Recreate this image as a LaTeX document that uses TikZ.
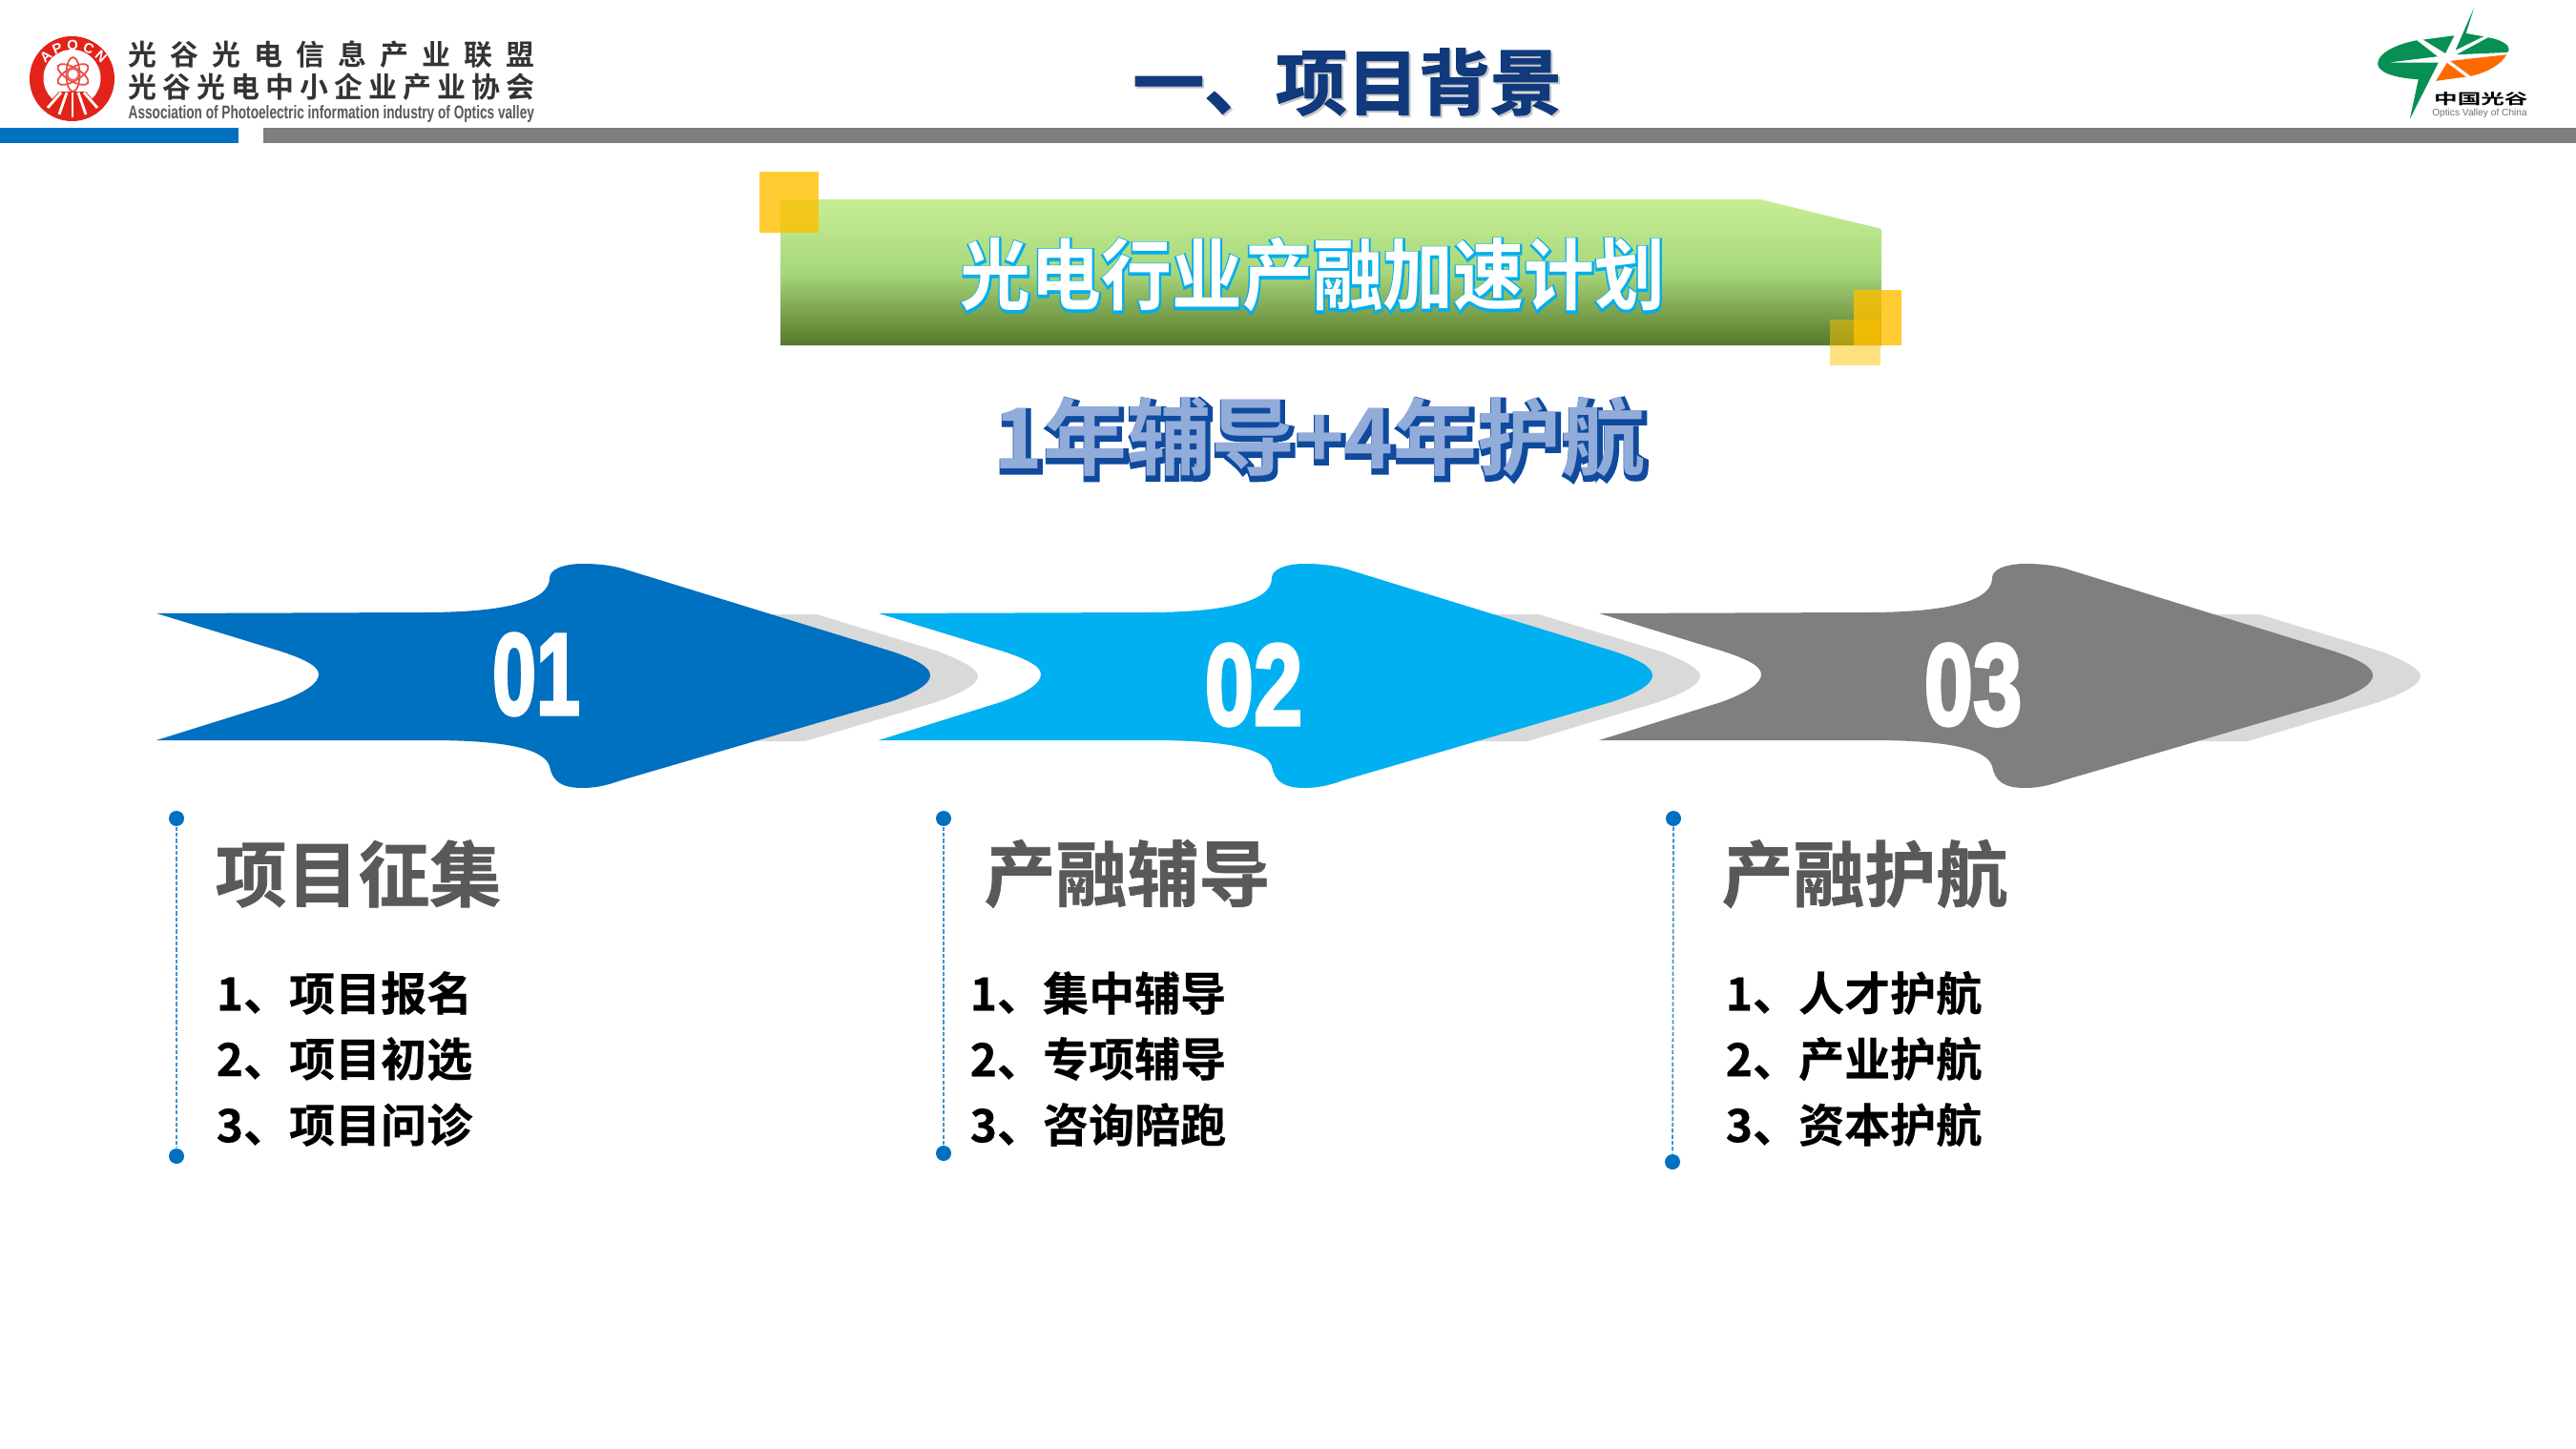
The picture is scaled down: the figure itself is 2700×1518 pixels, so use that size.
\documentclass[tikz,border=0pt]{standalone}
\usepackage{fontspec}
\setmainfont{Liberation Sans}
\newfontfamily\cjk{Noto Sans CJK SC}
\newfontfamily\cjkstroke[FakeBold=1.6]{Noto Sans CJK SC Bold}
\newfontfamily\cjkheavy[FakeBold=5]{Noto Sans CJK SC Bold}
\newfontfamily\cjkouter[FakeBold=7]{Noto Sans CJK SC Bold}
\newfontfamily\cjkbold{Noto Sans CJK SC Bold}
\newfontfamily\cjkhead[FakeBold=0.9]{Noto Sans CJK SC Bold}
\newfontfamily\cjkitem[FakeBold=0.4]{Noto Sans CJK SC Bold}
\newfontfamily\numfont[FakeBold=3]{Liberation Sans Bold}
\definecolor{cblue}{HTML}{0070C0}
\definecolor{csky}{HTML}{00B0F0}
\definecolor{cgray}{HTML}{7F7F7F}
\definecolor{cshadow}{HTML}{D9D9D9}
\definecolor{ctext}{HTML}{595959}
\definecolor{cgold}{HTML}{FFC000}
\definecolor{cgreen}{HTML}{078F54}
\definecolor{corange}{HTML}{FF6A00}
\definecolor{cred}{HTML}{E2231A}
\definecolor{cnavy}{HTML}{0F4A9E}
\definecolor{cpat}{HTML}{92ACDA}
\definecolor{ccyan}{HTML}{00AEEF}
\definecolor{ctitle}{HTML}{113A7C}
\definecolor{bantop}{HTML}{C6EE95}
\definecolor{banmid}{HTML}{A8D77B}
\definecolor{banbot}{HTML}{567729}
\tikzset{
  x=0.01cm,y=-0.01cm,
  headtext/.style={inner sep=0,font=\fontsize{21.3}{24}\cjkhead,text=ctext,anchor=west},
  itemtext/.style={inner sep=0,font=\fontsize{13.66}{16}\cjkitem,text=black,anchor=west},
  dotmark/.style={circle,fill=cblue,inner sep=0,minimum size=0.16cm},
  dashline/.style={cblue!75,line width=0.5pt,dash pattern=on 1.2pt off 0.6pt},
  plain/.style={inner sep=0},
  numtext/.style={inner sep=0,text=white,font=\fontsize{34.5}{36}\numfont,transform shape},
  logoletter/.style={inner sep=0,text=white,font=\fontsize{4.2}{5}\selectfont\bfseries},
}
\newcommand{\arrowbody}[2]{%
  \begin{scope}[xshift=#1*0.01cm]
    \fill[cshadow] (809,644) -- (856,644) -- (984,683) .. controls (1012,694) and (1025,702) .. (1025,709)
      .. controls (1025,717) and (1008,727) .. (978,737) -- (844,777) -- (794,777) -- cycle;
    \fill[#2] (164,643) -- (295,683) .. controls (322,692) and (334,699) .. (334,707)
      .. controls (334,716) and (320,726) .. (292,736) -- (164,776) -- (450,776)
      .. controls (530,776) and (570,785) .. (576,803)
      .. controls (579,819) and (588,826) .. (611,826)
      .. controls (626,826) and (640,822) .. (651,818) -- (935,735)
      .. controls (960,726) and (975,717) .. (975,708)
      .. controls (975,699) and (960,691) .. (932,682) -- (659,598)
      .. controls (645,593) and (628,591) .. (611,591)
      .. controls (590,591) and (576,597) .. (576,606)
      .. controls (576,630) and (530,642) .. (444,642) -- cycle;
  \end{scope}}
\begin{document}
\begin{tikzpicture}
\useasboundingbox (0,0) rectangle (2700,1518);
\fill[white] (0,0) rectangle (2700,1518);
% header bars
\fill[cblue] (0,134) rectangle (250,150);
\fill[cgray] (276,134) rectangle (2700,150);
% left logo
\fill[cred] (75.5,82.5) ellipse[x radius=44.5,y radius=44.5];
\fill[white] (75.5,82) circle[radius=30];
\fill[cred] (62,96) -- (90,96) -- (104,112) -- (90,122) -- (62,122) -- (47,112) -- cycle;
\foreach \sx/\ex/\ey in {64/50/113,70/62/120,76/76/123,82/90/120,88/102/113}{
  \draw[white,line width=0.8pt] (\sx,97) -- (\ex,\ey);
}
\foreach \r in {0,60,120}{
  \draw[cred!80,line width=0.5pt,rotate around={\r:(76.5,78)}] (76.5,78) ellipse[x radius=7,y radius=18];
}
\draw[cred!70,line width=0.6pt] (76.5,78) circle[radius=6];
\node[logoletter,rotate=42] (la1) at (48,59) {A};
\node[logoletter,rotate=22] (la2) at (60,51) {P};
\node[logoletter] (la3) at (76,47.5) {O};
\node[logoletter,rotate=-22] (la4) at (93,51) {C};
\node[logoletter,rotate=-42] (la5) at (106,59) {N};
\node[plain,anchor=west,text=black!80,font=\fontsize{8.5}{10}\cjkbold] (la) at (134,57.5)
  {\makebox[4.25cm][s]{光\hfil 谷\hfil 光\hfil 电\hfil 信\hfil 息\hfil 产\hfil 业\hfil 联\hfil 盟}};
\node[plain,anchor=west,text=black!80,font=\fontsize{8.5}{10}\cjkbold] (lb) at (134,91.5)
  {\makebox[4.25cm][s]{光\hfil 谷\hfil 光\hfil 电\hfil 中\hfil 小\hfil 企\hfil 业\hfil 产\hfil 业\hfil 协\hfil 会}};
\node[plain,anchor=base west,text=black!65] (lc) at (134,124)
  {\resizebox{4.25cm}{0.14cm}{\fontsize{11}{12}\selectfont\bfseries Association of Photoelectric information industry of Optics valley}};
% title
\node[plain,text=black!22,font=\fontsize{21.3}{24}\cjkstroke] (title0) at (1414,88) {一、项目背景};
\node[plain,text=ctitle,font=\fontsize{21.3}{24}\cjkstroke] (title) at (1412,86) {一、项目背景};
% right logo
\begin{scope}[shift={(2400*0.01cm,0)},x=0.00333cm,y=-0.00333cm]
  \fill[cgreen] (400,127) -- (465,178) -- (310,197) -- (468,197) -- (378,375) -- (405,250)
     .. controls (320,245) and (277,225) .. (277,200) .. controls (277,170) and (330,140) .. (400,127) -- cycle;
  \fill[cgreen] (420,125) -- (518,112) -- (490,168) -- cycle;
  \fill[cgreen] (580,25) -- (555,105) -- (610,115) -- (522,158) -- cycle;
  \fill[cgreen] (625,118) .. controls (665,125) and (690,140) .. (690,155) .. controls (690,160) and (688,163) .. (685,165) -- (525,172) -- cycle;
  \fill[corange] (495,198) -- (555,242) -- (460,255) -- cycle;
  \fill[corange] (505,192) -- (683,172) .. controls (665,205) and (620,228) .. (570,240) -- cycle;
  \node[plain,text=black,font=\fontsize{7}{8}\cjkbold,yscale=0.62,transform shape] (zg) at (602,312) {中国光谷};
  \node[plain,text=black!55,font=\fontsize{2.9}{3}\selectfont] (ov) at (598,358) {Optics Valley of China};
\end{scope}
% banner
\begin{scope}
  \clip (818,209) -- (1845,209) -- (1972,240) -- (1972,362) -- (818,362) -- cycle;
  \shade[top color=bantop,bottom color=banmid] (818,209) rectangle (1972,285);
  \shade[top color=banmid,bottom color=banbot] (818,285) rectangle (1972,362.5);
\end{scope}
\fill[cgold,opacity=.8] (796,180) rectangle (858,244);
\fill[cgold,opacity=.8] (1943,304) rectangle (1993,362);
\fill[cgold,opacity=.5] (1917.5,335) rectangle (1971,383);
\node[plain,text=ccyan,font=\fontsize{21}{24}\cjkheavy,yscale=1.1,transform shape] (ban0) at (1376,289) {光电行业产融加速计划};
\node[plain,text=white,font=\fontsize{21}{24}\cjkbold,yscale=1.1,transform shape] (ban) at (1376,288) {光电行业产融加速计划};
% subtitle
\node[plain,text=cnavy,font=\fontsize{25}{28}\cjkouter] (sub0) at (1385,461) {1年辅导+4年护航};
\node[plain,text=cpat,font=\fontsize{25}{28}\cjkbold] (sub) at (1383,458) {1年辅导+4年护航};
% arrows
\arrowbody{0}{cblue}
\arrowbody{757}{csky}
\arrowbody{1512}{cgray}
\node[numtext,xscale=0.68] (n1) at (562,707) {01};
\node[numtext,xscale=0.76] (n2) at (1314,718) {02};
\node[numtext,xscale=0.76] (n3) at (2068,718) {03};
% column 1
\node[dotmark] (a1) at (185,858) {};
\node[dotmark] (a2) at (185,1212) {};
\draw[dashline] (a1) -- (a2);
\node[headtext] (h1) at (225,916) {项目征集};
\node[itemtext] (i11) at (226,1041) {1、项目报名};
\node[itemtext] (i12) at (226,1110) {2、项目初选};
\node[itemtext] (i13) at (226,1179) {3、项目问诊};
% column 2
\node[dotmark] (b1) at (989,858) {};
\node[dotmark] (b2) at (989,1209) {};
\draw[dashline] (b1) -- (b2);
\node[headtext] (h2) at (1031,916) {产融辅导};
\node[itemtext] (i21) at (1016,1041) {1、集中辅导};
\node[itemtext] (i22) at (1016,1110) {2、专项辅导};
\node[itemtext] (i23) at (1016,1179) {3、咨询陪跑};
% column 3
\node[dotmark] (c1) at (1754,858) {};
\node[dotmark] (c2) at (1753,1218) {};
\draw[dashline] (c1) -- (c2);
\node[headtext] (h3) at (1804,916) {产融护航};
\node[itemtext] (i31) at (1808,1041) {1、人才护航};
\node[itemtext] (i32) at (1808,1110) {2、产业护航};
\node[itemtext] (i33) at (1808,1179) {3、资本护航};
\end{tikzpicture}
\end{document}
